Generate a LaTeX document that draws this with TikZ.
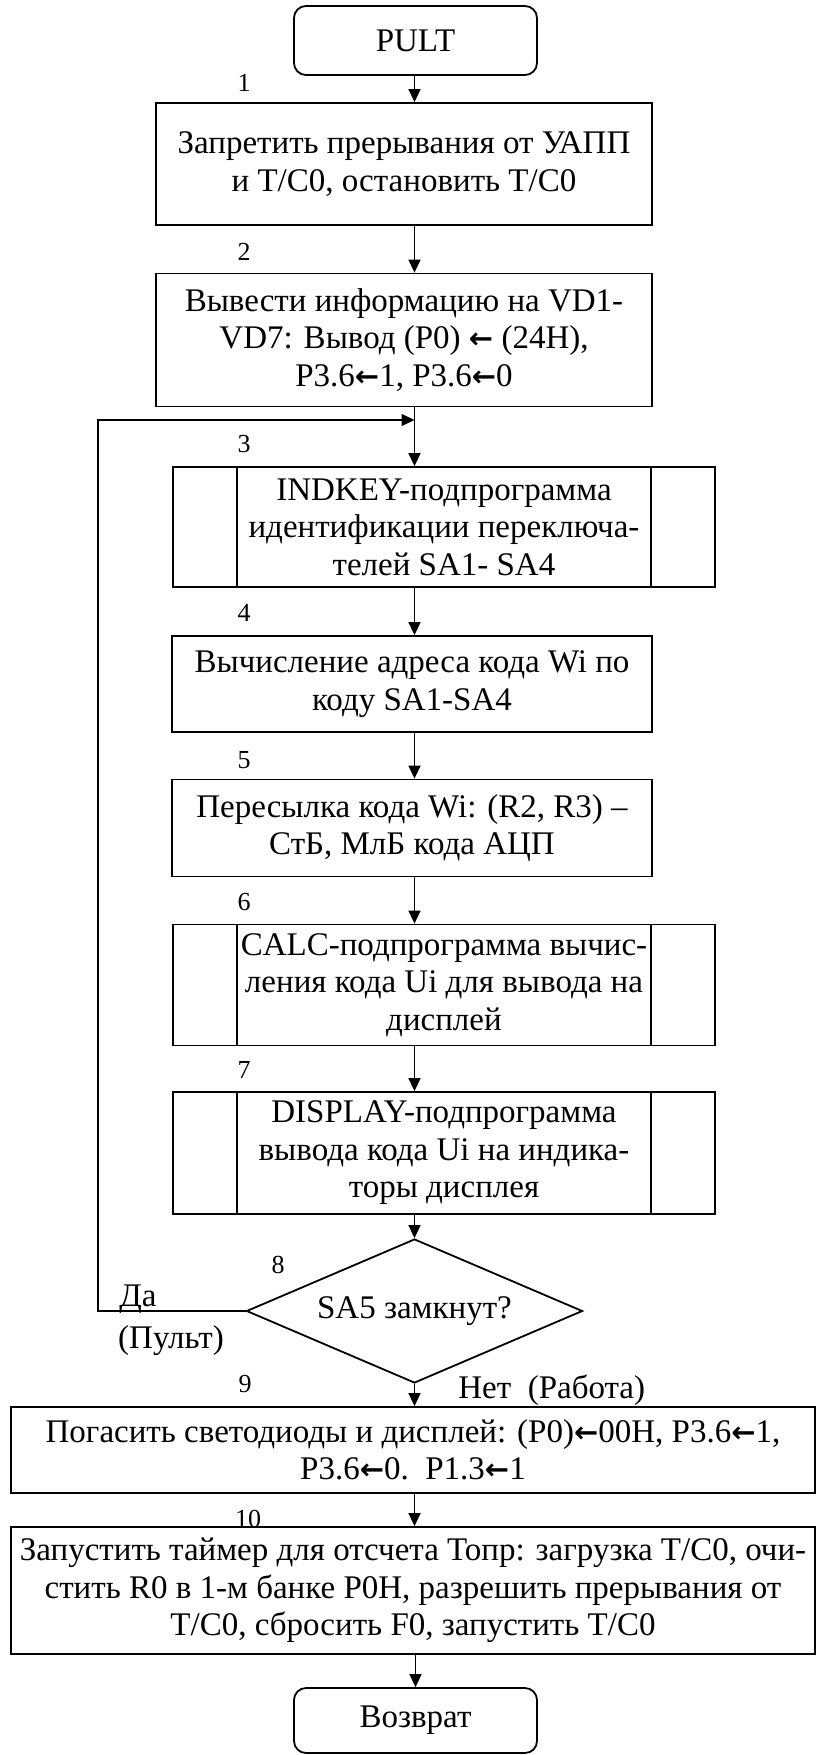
\documentclass[tikz,border=0pt]{standalone}
\usepackage{fontspec}
\setmainfont{Liberation Serif}
\newfontfamily\arrfont{DejaVu Sans}
\usetikzlibrary{positioning,arrows.meta,shapes.geometric}
\newcommand{\la}{{\arrfont\bfseries\fontsize{14.5}{14.5}\selectfont ←}}

\begin{document}
\begin{tikzpicture}[x=0.5pt, y=-0.5pt,
    every node/.style={font=\fontsize{16.5}{18.75}\selectfont},
    box/.style={draw, line width=0.9pt, align=center, inner sep=2pt},
    term/.style={box, rounded corners=6pt, minimum width=121.5pt},
    subbox/.style={box, minimum width=271pt},
    cond/.style={draw, line width=0.9pt, diamond, aspect=2.33, inner sep=0pt,
                 minimum width=168pt, minimum height=72pt},
    num/.style={font=\fontsize{13}{15}\selectfont, inner sep=0pt},
    lbl/.style={inner sep=0pt},
    arr/.style={-{Triangle[length=6.5pt, width=6pt]}, line width=0.75pt}]
  \useasboundingbox (0,0) rectangle (817,1755);
  \node[term, minimum height=34.5pt] (pult) at (415.5,40.5) {PULT};
  \node[box, minimum width=248pt, minimum height=61pt] (b1) at (404,164)
    {Запретить прерывания от УАПП\\и Т/С0, остановить Т/С0};
  \node[box, minimum width=248pt, minimum height=66.5pt] (b2) at (404,340)
    {Вывести информацию на VD1-\\VD7: Вывод (P0) \la{} (24H),\\P3.6\la1, P3.6\la0};
  \node[subbox, minimum height=60pt] (b3) at (444,527)
    {INDKEY-подпрограмма\\идентификации переключа-\\телей SA1- SA4};
  \node[box, minimum width=240pt, minimum height=48pt] (b4) at (412,684)
    {Вычисление адреса кода Wi по\\коду SA1-SA4};
  \node[box, minimum width=240pt, minimum height=48.5pt] (b5) at (412,828)
    {Пересылка кода Wi: (R2, R3) –\\СтБ, МлБ кода АЦП};
  \node[subbox, minimum height=60.5pt] (b6) at (444,985)
    {CALC-подпрограмма вычис-\\ления кода Ui для вывода на\\дисплей};
  \node[subbox, minimum height=61pt] (b7) at (444,1153)
    {DISPLAY-подпрограмма\\вывода кода Ui на индика-\\торы дисплея};
  \node[cond] (d8) at (414.5,1311) {SA5 замкнут?};
  \node[box, minimum width=402pt, minimum height=43pt] (b9) at (413,1450)
    {Погасить светодиоды и дисплей: (P0)\la00H, P3.6\la1,\\P3.6\la0.\ \ P1.3\la1};
  \node[box, minimum width=402pt, minimum height=63.5pt] (b10) at (413,1590.5)
    {Запустить таймер для отсчета Топр: загрузка Т/С0, очи-\\стить R0 в 1-м банке P0H, разрешить прерывания от\\Т/С0, сбросить F0, запустить Т/С0};
  \node[term, minimum height=32.5pt] (ret) at (415.5,1720.5) {Возврат};
  % side bars of the subroutine boxes
  \foreach \n in {b3,b6,b7} {
    \draw[line width=0.9pt] ([xshift=32.5pt]\n.north west) -- ([xshift=32.5pt]\n.south west);
    \draw[line width=0.9pt] ([xshift=-32.5pt]\n.north east) -- ([xshift=-32.5pt]\n.south east);
  }
  % block numbers
  \node[num] (n1) at (244,83) {1};
  \node[num] (n2) at (244,252) {2};
  \node[num] (n3) at (244,444) {3};
  \node[num] (n4) at (244,613) {4};
  \node[num] (n5) at (244,760) {5};
  \node[num] (n6) at (244,902) {6};
  \node[num] (n7) at (244,1070) {7};
  \node[num] (n8) at (278,1265) {8};
  \node[num] (n9) at (245,1384) {9};
  \node[num] (n10) at (248,1519) {10};
  % connectors
  \coordinate (j) at (414.5,420);
  \coordinate (lp) at (98,420);
  \foreach \a/\b in {pult/b1, b1/b2, b2/b3, b3/b4, b4/b5, b5/b6, b6/b7, b7/d8, d8/b9, b9/b10}
    \draw[arr] (\a.south -| d8) -- (\b.north -| d8);
  \draw[arr] (b10.south -| ret) -- (ret.north);
  \draw[arr] (d8.west) -| (lp) -- (j);
  \node[lbl, anchor=base west] (yes) at (119,1306) {Да};
  \node[lbl] (yesm) at (171,1341) {(Пульт)};
  \node[lbl, anchor=west] (no) at (458,1390) {Нет\ \ (Работа)};
\end{tikzpicture}
\end{document}
